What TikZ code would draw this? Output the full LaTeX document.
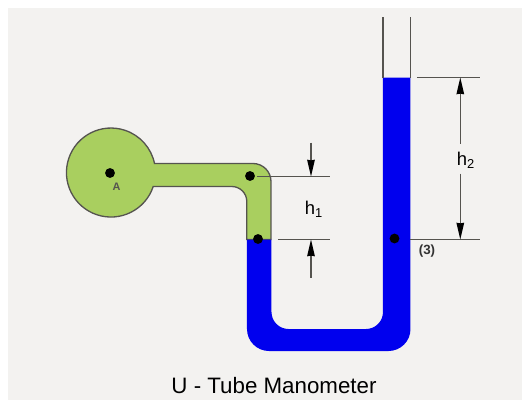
\documentclass[tikz,border=0pt]{standalone}
\usepackage{fontspec}
\setmainfont{Liberation Sans}
\usepackage{xcolor}
\usetikzlibrary{arrows.meta}
\definecolor{bulbgreen}{HTML}{A9CF5F}
\definecolor{liquidblue}{HTML}{0000EE}
\definecolor{pagegray}{HTML}{F3F2F0}
\definecolor{wallgray}{HTML}{55544F}
\tikzset{
  wall/.style={color=wallgray, line width=0.75pt},
  dimline/.style={color=wallgray, line width=0.65pt},
  dimarrow/.style={dimline, -{Stealth[black, length=9.5pt, width=4.3pt, inset=0.3pt]}},
  point/.style={circle, fill=black, inner sep=0pt, minimum size=5.6pt},
}
\begin{document}
\begin{tikzpicture}[x=0.02cm, y=-0.02cm]
\useasboundingbox (0,0) rectangle (522,400);
\fill[color=white] (0,0) rectangle (522,400);
\fill[color=pagegray] (8,8) rectangle (522,400);

% bulb and arm
\draw[wall, fill=bulbgreen]
(154.6,163.5) -- (253,163.5) arc (-90:0:18) -- (271,239.5) -- (246.8,239.5)
-- (246.8,201.5) arc (0:-90:15) -- (153.2,186.5)
arc (18.3:348.3:44.5) -- cycle;

% liquid
\fill[color=liquidblue]
(246.8,239.5) -- (271.5,239.5) -- (271.5,312) arc (180:90:17) -- (366,329)
arc (90:0:17) -- (383,77.5) -- (410.5,77.5) -- (410.5,329)
arc (0:90:22) -- (269,351) arc (90:180:22) -- cycle;

% open end of the tube
\draw[wall] (383,17) -- (383,77.5);
\draw[wall] (410.5,17) -- (410.5,77.5);

\node[point] (pA) at (110,173) {};
\node[point] (p1) at (250,176) {};
\node[point] (p2) at (258,239) {};
\node[point] (p3) at (394.5,238.5) {};

\node[font=\fontsize{6.2}{7}\selectfont\bfseries, color=wallgray] (labA) at (116.5,186.5) {A};
\node[font=\fontsize{7.6}{9}\selectfont\bfseries, color=black!80] (lab3) at (427,251.5) {(3)};
\node[font=\fontsize{10.5}{12}\selectfont, color=black] (labh1) at (314,209.5) {h\textsubscript{1}};
\node[font=\fontsize{10.5}{12}\selectfont, color=black] (labh2) at (466,160.5) {h\textsubscript{2}};
\node[font=\fontsize{12.7}{15}\selectfont, color=black] (title) at (274,386) {U - Tube Manometer};

\coordinate (h1a) at (257,176.5);
\coordinate (h1b) at (330,176.5);
\coordinate (h1c) at (278.5,239.5);
\coordinate (h1d) at (330,239.5);
\coordinate (h1e) at (311,142.5);
\coordinate (h1f) at (311,176.5);
\coordinate (h1g) at (311,277.5);
\coordinate (h1h) at (311,239.5);
\coordinate (h2a) at (417,77.5);
\coordinate (h2b) at (480,77.5);
\coordinate (h2c) at (410.5,239.5);
\coordinate (h2d) at (480,239.5);
\coordinate (h2e) at (460.3,143.5);
\coordinate (h2f) at (460.3,77.5);
\coordinate (h2g) at (460.3,173.5);
\coordinate (h2h) at (460.3,239.5);

\draw[dimline] (h1a) -- (h1b);
\draw[dimline] (h1c) -- (h1d);
\draw[dimline] (h2a) -- (h2b);
\draw[dimline] (h2c) -- (h2d);
\draw[dimarrow] (h1e) -- (h1f);
\draw[dimarrow] (h1g) -- (h1h);
\draw[dimarrow] (h2e) -- (h2f);
\draw[dimarrow] (h2g) -- (h2h);
\end{tikzpicture}
\end{document}
